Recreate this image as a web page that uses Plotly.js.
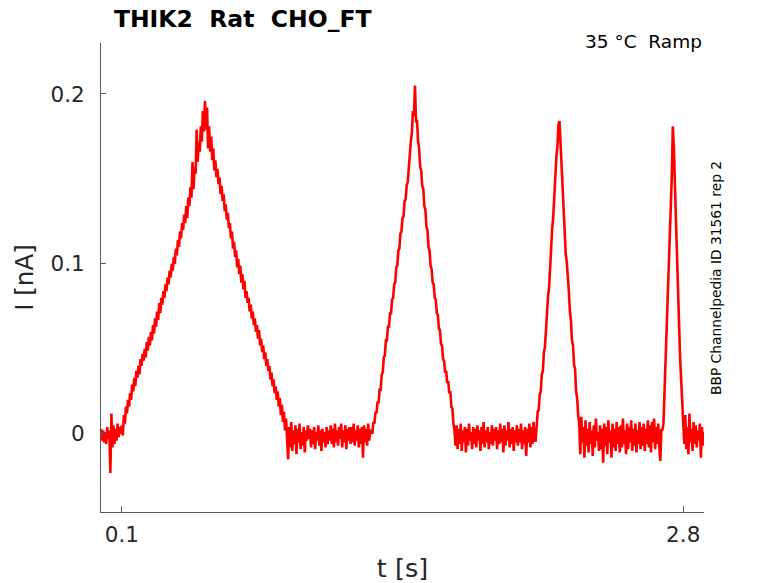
<!DOCTYPE html>
<html>
<head>
<meta charset="utf-8">
<script src="https://cdn.plot.ly/plotly-3.0.1.min.js"></script>
<style>
  html, body { margin: 0; padding: 0; background: #fff; }
  #chart { width: 778px; height: 583px; }
</style>
</head>
<body>
<div id="chart"></div>
<script>
// Sampling of the recorded trace (s)
var sampleStart = 0;
var sampleStep = 0.005;

// Current [nA], one array per protocol phase
// 0.000 - 0.095 s : holding
var restStart = [0.003, -0.004, 0.002, -0.005, 0.001, -0.006, 0.004, -0.003, 0.002, -0.023,
                 0.012, -0.008, 0.005, -0.006, 0.003, -0.004, 0.006, -0.002, 0.004, 0.000];
// 0.100 - 0.895 s : ramp 800 ms
var ramp800 = [0.005, -0.001, 0.011, 0.006, 0.016, 0.012, 0.020, 0.016, 0.024, 0.020,
               0.029, 0.025, 0.033, 0.028, 0.037, 0.033, 0.040, 0.035, 0.044, 0.040,
               0.047, 0.043, 0.050, 0.045, 0.054, 0.049, 0.057, 0.052, 0.060, 0.055,
               0.064, 0.059, 0.068, 0.063, 0.072, 0.067, 0.077, 0.071, 0.080, 0.076,
               0.084, 0.080, 0.088, 0.084, 0.092, 0.088, 0.096, 0.092, 0.100, 0.096,
               0.104, 0.100, 0.109, 0.105, 0.114, 0.110, 0.119, 0.115, 0.124, 0.120,
               0.129, 0.124, 0.134, 0.127, 0.139, 0.134, 0.145, 0.139, 0.160, 0.144,
               0.157, 0.153, 0.179, 0.160, 0.172, 0.166, 0.181, 0.172, 0.190, 0.178,
               0.196, 0.179, 0.192, 0.168, 0.181, 0.166, 0.175, 0.161, 0.168, 0.155,
               0.161, 0.151, 0.156, 0.147, 0.151, 0.141, 0.146, 0.137, 0.141, 0.131,
               0.135, 0.126, 0.130, 0.121, 0.124, 0.115, 0.119, 0.109, 0.113, 0.104,
               0.108, 0.098, 0.103, 0.094, 0.099, 0.089, 0.094, 0.085, 0.090, 0.080,
               0.084, 0.077, 0.080, 0.072, 0.076, 0.068, 0.072, 0.064, 0.068, 0.060,
               0.064, 0.056, 0.061, 0.052, 0.056, 0.048, 0.052, 0.044, 0.048, 0.040,
               0.044, 0.037, 0.040, 0.032, 0.036, 0.028, 0.032, 0.024, 0.028, 0.020,
               0.025, 0.016, 0.021, 0.011, 0.017, 0.007, 0.013, 0.002, 0.009, -0.003];
// 0.900 - 1.295 s : holding
var rest1 = [-0.015, 0.004, -0.008, 0.007, -0.010, 0.002, -0.006, 0.005, -0.012, 0.003,
             -0.005, 0.006, -0.009, 0.001, -0.007, 0.004, -0.011, 0.002, -0.004, 0.005,
             -0.003, 0.003, -0.008, 0.002, -0.006, 0.004, -0.009, 0.001, -0.004, 0.005,
             -0.007, 0.002, -0.010, 0.003, -0.005, 0.001, -0.008, 0.004, -0.006, 0.002,
             -0.004, 0.005, -0.006, 0.003, -0.008, 0.006, -0.005, 0.002, -0.007, 0.004,
             -0.003, 0.006, -0.008, 0.002, -0.005, 0.005, -0.009, 0.003, -0.004, 0.004,
             -0.006, 0.004, -0.005, 0.006, -0.007, 0.002, -0.004, 0.005, -0.008, 0.003,
             -0.006, 0.004, -0.014, 0.005, -0.005, 0.003, -0.007, 0.006, -0.004, 0.002];
// 1.300 - 1.695 s : ramp 400 ms
var ramp400 = [0.002, 0.000, 0.007, 0.006, 0.013, 0.012, 0.019, 0.018, 0.026, 0.026,
               0.035, 0.036, 0.045, 0.046, 0.055, 0.055, 0.063, 0.063, 0.071, 0.071,
               0.079, 0.080, 0.088, 0.089, 0.098, 0.099, 0.108, 0.109, 0.118, 0.119,
               0.127, 0.128, 0.137, 0.138, 0.146, 0.148, 0.158, 0.161, 0.172, 0.177,
               0.190, 0.187, 0.205, 0.184, 0.184, 0.172, 0.168, 0.157, 0.155, 0.146,
               0.144, 0.134, 0.132, 0.122, 0.120, 0.110, 0.108, 0.099, 0.097, 0.089,
               0.088, 0.080, 0.079, 0.071, 0.070, 0.062, 0.061, 0.053, 0.052, 0.044,
               0.043, 0.036, 0.037, 0.030, 0.031, 0.024, 0.025, 0.016, 0.015, 0.006];
// 1.700 - 2.095 s : holding
var rest2 = [0.002, -0.007, 0.005, -0.009, 0.003, -0.006, 0.006, -0.010, 0.002, -0.005,
             0.004, -0.011, 0.003, -0.007, 0.006, -0.004, 0.001, -0.009, 0.004, -0.006,
             0.003, -0.008, 0.005, -0.004, 0.002, -0.010, 0.004, -0.006, 0.007, -0.008,
             0.002, -0.005, 0.004, -0.009, 0.001, -0.006, 0.005, -0.007, 0.003, -0.004,
             0.004, -0.009, 0.002, -0.006, 0.006, -0.005, 0.003, -0.011, 0.005, -0.007,
             0.002, -0.004, 0.007, -0.008, 0.003, -0.006, 0.004, -0.010, 0.002, -0.005,
             0.005, -0.007, 0.003, -0.005, 0.006, -0.009, 0.002, -0.006, 0.004, -0.013,
             0.003, -0.005, 0.006, -0.008, 0.004, -0.006, 0.007, -0.004, -0.004, 0.004];
// 2.100 - 2.295 s : ramp 200 ms
var ramp200 = [0.013, 0.014, 0.023, 0.025, 0.035, 0.037, 0.048, 0.051, 0.063, 0.067,
               0.081, 0.086, 0.100, 0.107, 0.121, 0.128, 0.142, 0.148, 0.163, 0.169,
               0.182, 0.184, 0.170, 0.153, 0.145, 0.128, 0.120, 0.106, 0.101, 0.088,
               0.084, 0.072, 0.067, 0.055, 0.052, 0.041, 0.038, 0.025, 0.021, 0.011];
// 2.300 - 2.695 s : holding
var rest3 = [0.006, -0.012, 0.010, -0.005, 0.004, -0.014, 0.008, -0.007, 0.003, -0.011,
             0.007, -0.006, 0.002, -0.013, 0.005, -0.008, 0.009, -0.004, 0.001, -0.010,
             0.005, -0.009, 0.003, -0.017, 0.006, -0.007, 0.004, -0.012, 0.008, -0.005,
             0.002, -0.014, 0.006, -0.008, 0.003, -0.010, 0.007, -0.006, 0.004, -0.011,
             0.005, -0.008, 0.009, -0.006, 0.002, -0.012, 0.006, -0.009, 0.004, -0.005,
             0.008, -0.010, 0.003, -0.007, 0.006, -0.011, 0.002, -0.006, 0.007, -0.009,
             0.004, -0.007, 0.006, -0.010, 0.003, -0.006, 0.008, -0.008, 0.005, -0.011,
             0.007, -0.005, 0.009, -0.009, 0.004, -0.006, 0.006, -0.008, -0.016, 0.003];
// 2.700 - 2.795 s : ramp 100 ms
var ramp100 = [0.002, 0.006, 0.025, 0.041, 0.061, 0.076, 0.095, 0.110, 0.131, 0.151,
               0.181, 0.169, 0.147, 0.123, 0.104, 0.082, 0.065, 0.045, 0.032, 0.018];
// 2.800 - 2.900 s : holding
var restEnd = [0.010, -0.006, 0.011, -0.009, 0.004, -0.012, 0.012, -0.005, 0.003, -0.010,
               0.007, -0.006, 0.005, -0.008, 0.002, -0.004, 0.006, -0.014, 0.004, -0.007,
               0.001];

var current_nA = [].concat(restStart, ramp800, rest1, ramp400, rest2,
                           ramp200, rest3, ramp100, restEnd);

// Tick labels
var xTickVals = [0.1, 2.8];
var xTickText = ['0.1', '2.8'];
var yTickVals = [0, 0.1, 0.2];
var yTickText = ['0', '0.1', '0.2'];

var fontName = 'DejaVu Sans';
var textColor = '#262626';
var axisColor = '#5a5a5a';

var trace = {
    type: 'scatter',
    mode: 'lines',
    x0: sampleStart,
    dx: sampleStep,
    y: current_nA,
    line: {color: '#ff0000', width: 2.6},
    hoverinfo: 'skip'
};

var layout = {
    width: 778,
    height: 583,
    margin: {l: 101, r: 74, t: 43, b: 71},
    paper_bgcolor: '#ffffff',
    plot_bgcolor: '#ffffff',
    showlegend: false,
    font: {family: fontName, color: textColor},
    title: {
        text: 'THIK2\u00a0\u00a0Rat\u00a0\u00a0CHO_FT',
        font: {family: fontName, size: 23.5, color: '#000000', weight: 'bold'},
        xref: 'container', yref: 'container',
        x: 0.312, xanchor: 'center',
        y: 0.967, yanchor: 'middle'
    },
    xaxis: {
        range: [0, 2.9],
        tickvals: xTickVals,
        ticktext: xTickText,
        ticks: 'inside',
        ticklen: 6,
        tickcolor: axisColor,
        tickfont: {family: fontName, size: 21.5, color: textColor},
        ticklabelstandoff: 3,
        showline: true,
        linecolor: axisColor,
        linewidth: 1,
        showgrid: false,
        zeroline: false,
        title: {text: 't [s]', font: {family: fontName, size: 25.5, color: textColor}, standoff: 14}
    },
    yaxis: {
        range: [-0.046, 0.23],
        tickvals: yTickVals,
        ticktext: yTickText,
        ticks: 'inside',
        ticklen: 5,
        tickcolor: axisColor,
        tickfont: {family: fontName, size: 21.5, color: textColor},
        ticklabelstandoff: 11,
        showline: true,
        linecolor: axisColor,
        linewidth: 1,
        showgrid: false,
        zeroline: false,
        title: {text: 'I [nA]', font: {family: fontName, size: 24.5, color: textColor}, standoff: 9}
    },
    annotations: [
        {
            text: '35 °C\u00a0\u00a0Ramp',
            xref: 'paper', yref: 'paper',
            x: 1, xanchor: 'right',
            y: 1.004, yanchor: 'middle',
            showarrow: false,
            font: {family: fontName, size: 18.5, color: '#000000'}
        },
        {
            text: 'BBP Channelpedia ID 31561 rep 2',
            xref: 'paper', yref: 'paper',
            x: 1.02, xanchor: 'center',
            y: 0.499, yanchor: 'middle',
            textangle: -90,
            showarrow: false,
            font: {family: fontName, size: 13.8, color: '#000000'}
        }
    ]
};

Plotly.newPlot('chart', [trace], layout, {staticPlot: true, displayModeBar: false});
</script>
</body>
</html>
